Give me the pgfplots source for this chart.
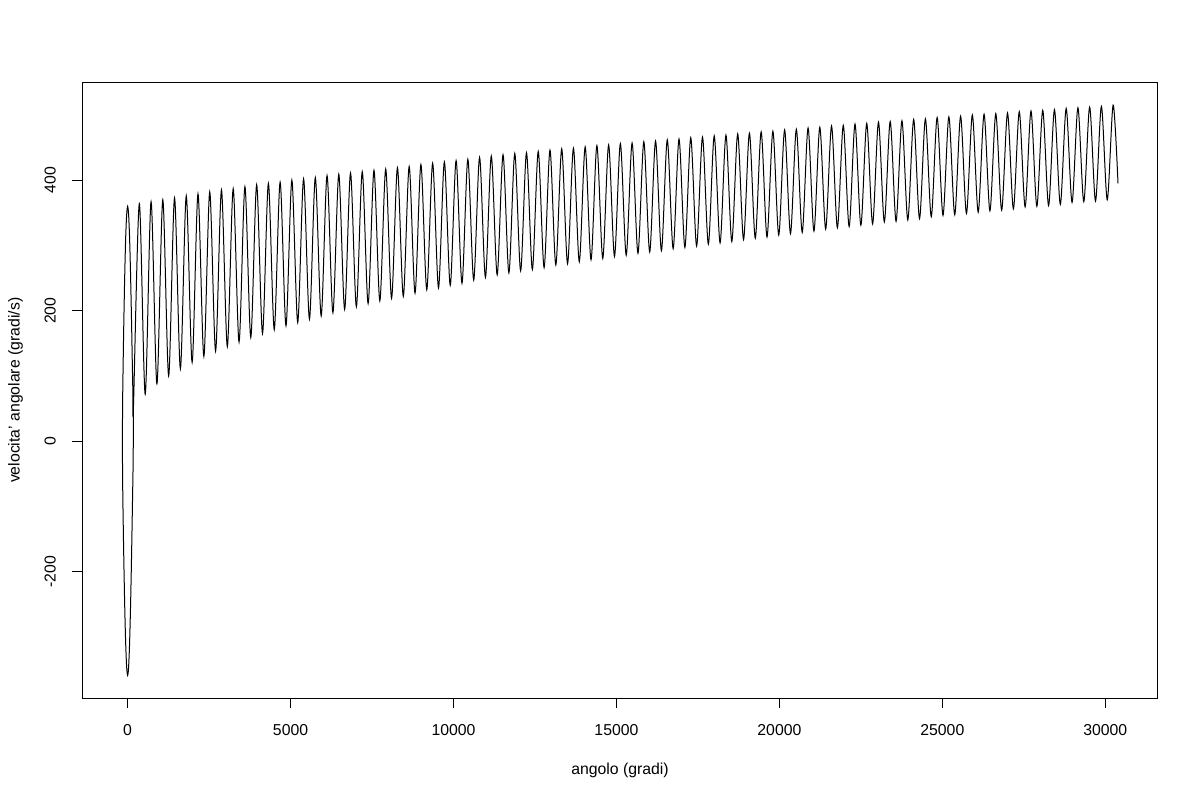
\documentclass[border=0pt]{standalone}
\usepackage{pgfplots}
\pgfplotsset{compat=1.18}
\usepackage{pgfplotstable}
\usepackage{fontspec}
\setmainfont{Liberation Sans}

\pgfplotstableread{
theta v
180 45
170 -31
150 -93
120 -180
90 -254
60 -311
30 -347
0 -359
-30 -345
-60 -308
-90 -249
-120 -170
-140 -107
-150 -70
-160 0
-150 70
-140 107
-120 171
-90 250
-60 310
-30 346
0 360
30 348
60 313
90 257
120 186
150 106
165 70
180 53
360 364
540 72
720 367
900 88
1080 370
1260 100
1440 373
1620 111
1800 376
1980 121
2160 379
2340 130
2520 382
2700 138
2880 385
3060 145
3240 387
3420 152
3600 390
3780 159
3960 393
4140 165
4320 395
4500 171
4680 397
4860 177
5040 400
5220 182
5400 402
5580 187
5760 404
5940 192
6120 407
6300 197
6480 409
6660 202
6840 411
7020 206
7200 413
7380 211
7560 415
7740 215
7920 417
8100 219
8280 419
8460 222
8640 421
8820 227
9000 424
9180 232
9360 426
9540 235
9720 428
9900 239
10080 430
10260 242
10440 432
10620 247
10800 435
10980 251
11160 437
11340 255
11520 439
11700 258
11880 441
12060 261
12240 442
12420 263
12600 444
12780 266
12960 446
13140 270
13320 448
13500 272
13680 449
13860 275
14040 451
14220 278
14400 453
14580 280
14760 454
14940 283
15120 456
15300 285
15480 457
15660 288
15840 459
16020 290
16200 460
16380 292
16560 462
16740 295
16920 463
17100 297
17280 465
17460 299
17640 466
17820 302
18000 468
18180 304
18360 469
18540 306
18720 471
18900 309
19080 472
19260 311
19440 474
19620 313
19800 475
19980 316
20160 477
20340 318
20520 478
20700 320
20880 480
21060 322
21240 481
21420 325
21600 483
21780 327
21960 484
22140 329
22320 486
22500 331
22680 487
22860 333
23040 489
23220 336
23400 490
23580 337
23760 491
23940 339
24120 493
24300 341
24480 494
24660 344
24840 496
25020 346
25200 497
25380 347
25560 498
25740 349
25920 500
26100 351
26280 501
26460 353
26640 502
26820 354
27000 503
27180 356
27360 505
27540 359
27720 506
27900 360
28080 507
28260 361
28440 508
28620 363
28800 510
28980 366
29160 511
29340 367
29520 512
29700 368
29880 513
30060 370
30240 515
30390 395
}\datatable

\begin{document}
\begin{tikzpicture}
\useasboundingbox (0,0) rectangle (1200bp,800bp);
\begin{axis}[
  at={(82.3bp,101.7bp)}, anchor=south west,
  scale only axis, width=1075.4bp, height=616bp,
  xmin=-1390, xmax=31608, ymin=-394, ymax=550,
  axis line style={line width=1bp, black},
  tick pos=left, tick align=outside,
  major tick length=10bp,
  tick style={line width=1bp, black},
  scaled x ticks=false, scaled y ticks=false,
  xtick={0,5000,10000,15000,20000,25000,30000},
  xticklabels={0,5000,10000,15000,20000,25000,30000},
  ytick={-200,0,200,400},
  yticklabels={-200,0,200,400},
  tick label style={font=\fontsize{15.8bp}{19bp}\selectfont},
  xticklabel style={anchor=base, yshift=-26.7bp},
  yticklabel style={xshift=-16.8bp, rotate=90, anchor=base},
  xlabel={angolo (gradi)},
  ylabel={velocita' angolare (gradi/s)},
  every axis x label/.style={at={(axis description cs:0.5,-0.1229)}, anchor=base, font=\fontsize{15.8bp}{19bp}\selectfont},
  every axis y label/.style={at={(axis description cs:-0.0584,0.5)}, rotate=90, anchor=base, font=\fontsize{15.8bp}{19bp}\selectfont},
  clip=true,
]
\addplot[black, line width=1bp, smooth, tension=0.5] table[x=theta, y=v] {\datatable};
\end{axis}
\end{tikzpicture}
\end{document}
